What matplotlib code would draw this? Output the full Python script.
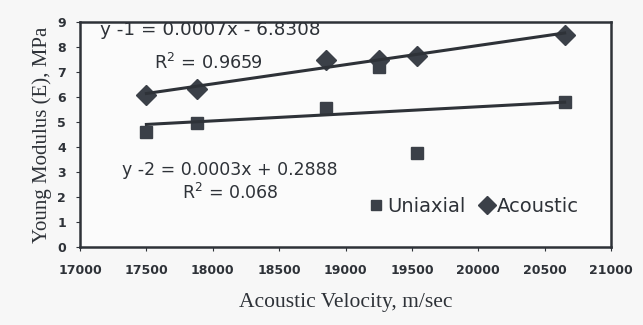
import matplotlib

matplotlib.use("Agg")

import matplotlib.pyplot as plt  # noqa: E402
import numpy as np  # noqa: E402

INK = "#2e3238"
MARK = "#3b4048"

velocity = [17500, 17880, 18850, 19250, 19540, 20650]
uniaxial = [4.6, 4.96, 5.56, 7.2, 3.76, 5.8]
acoustic = [6.08, 6.32, 7.5, 7.5, 7.64, 8.48]

x_ticks = [17000, 17500, 18000, 18500, 19000, 19500, 20000, 20500, 21000]
y_ticks = list(range(10))

fig = plt.figure(figsize=(6.43, 3.25), dpi=100, facecolor="#f7f7f7")
ax = fig.add_axes([0.1244, 0.24, 0.826, 0.692])
ax.set_facecolor("#fbfbfb")

x = np.array(velocity, dtype=float)
for ys, marker, size, label in [
    (uniaxial, "s", 8.5, "Uniaxial"),
    (acoustic, "D", 10.5, "Acoustic"),
]:
    ax.plot(x, ys, linestyle="none", marker=marker, markersize=size,
            color=MARK, label=label)
    k, b = np.polyfit(x, ys, 1)
    ax.plot(x[[0, -1]], k * x[[0, -1]] + b, color=INK, linewidth=2.2)

ax.set_xlim(17000, 21000)
ax.set_ylim(0, 9)
ax.set_xticks(x_ticks)
ax.set_yticks(y_ticks)
ax.tick_params(labelsize=9, colors=INK, length=3)
ax.tick_params(axis="x", pad=9)
ax.tick_params(axis="y", pad=7)
for t in ax.get_xticklabels() + ax.get_yticklabels():
    t.set_fontweight("bold")
for s in ax.spines.values():
    s.set_color(INK)
    s.set_linewidth(1.8)

ax.set_xlabel("Acoustic Velocity, m/sec", family="Liberation Serif",
              fontsize=15.5, color=INK, labelpad=12)
ax.set_ylabel("Young Modulus (E), MPa", family="Liberation Serif",
              fontsize=15, color=INK, labelpad=4)

eq = dict(color=INK, family="DejaVu Sans", va="center")
ax.text(17150, 8.68, "y -1 = 0.0007x - 6.8308", fontsize=13.2, **eq)
ax.text(17560, 7.36, "R$^2$ = 0.9659", fontsize=12.8, **eq)
ax.text(17320, 3.08, "y -2 = 0.0003x + 0.2888", fontsize=12.5, **eq)
ax.text(17770, 2.16, "R$^2$ = 0.068", fontsize=12.5, **eq)

ax.legend(loc="lower right", bbox_to_anchor=(0.973, 0.06), ncol=2, frameon=False,
          prop={"family": "DejaVu Sans", "size": 14}, handletextpad=0.05,
          columnspacing=0.6, handlelength=1.0, markerscale=0.85,
          labelcolor=INK)

fig.savefig("out.png", dpi=100, facecolor=fig.get_facecolor())
